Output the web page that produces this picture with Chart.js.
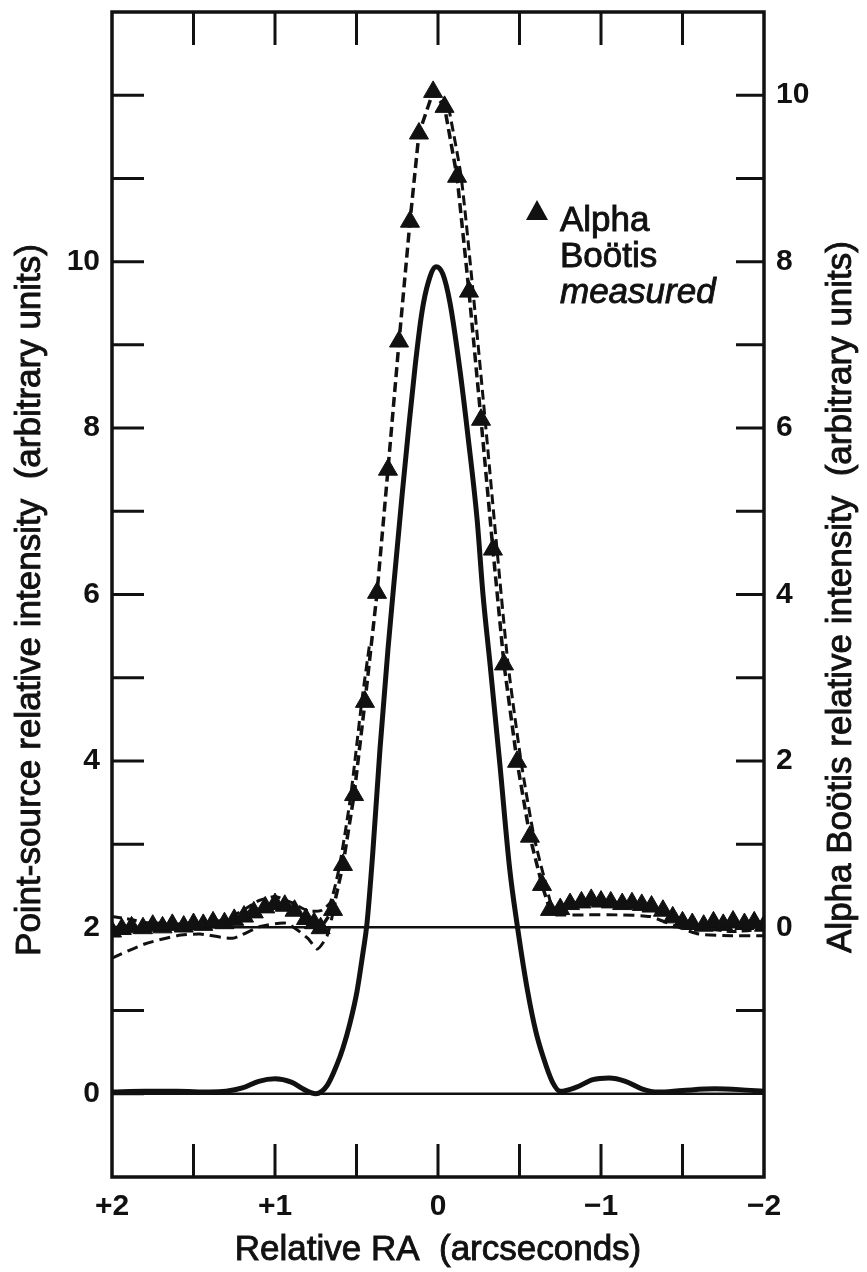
<!DOCTYPE html>
<html>
<head>
<meta charset="utf-8">
<script src="https://cdn.jsdelivr.net/npm/chart.js@4.4.0/dist/chart.umd.min.js"></script>
<style>
body { margin: 0; background: #fff; }
#wrap { width: 867px; height: 1272px; }
</style>
</head>
<body>
<div id="wrap"><canvas id="myChart" width="867" height="1272"></canvas></div>
<script>
var ctx = document.getElementById('myChart');

// Alpha Bootis measured scan (right axis units), RA in arcsec
const measuredRA = [2.0, 1.94, 1.88, 1.81, 1.75, 1.69, 1.63, 1.56, 1.5, 1.44,
    1.38, 1.31, 1.25, 1.19, 1.13, 1.06, 1.0, 0.94, 0.88, 0.81,
    0.76, 0.72, 0.644, 0.583, 0.515, 0.448, 0.374, 0.307, 0.239, 0.172,
    0.117, 0.03, -0.04, -0.117, -0.19, -0.264, -0.337, -0.405, -0.485, -0.564,
    -0.638, -0.687, -0.75, -0.81, -0.88, -0.94, -1.0, -1.06, -1.13, -1.19,
    -1.25, -1.31, -1.38, -1.44, -1.5, -1.56, -1.63, -1.69, -1.75, -1.81,
    -1.88, -1.94, -2.0];
const measuredVals = [-0.05, -0.02, 0.0, -0.01, 0.02, 0.0, 0.03, 0.01, 0.04, 0.03,
    0.06, 0.05, 0.09, 0.13, 0.18, 0.24, 0.28, 0.26, 0.2, 0.1,
    0.05, -0.01, 0.21, 0.75, 1.59, 2.71, 4.02, 5.5, 7.04, 8.48,
    9.54, 10.04, 9.86, 9.02, 7.64, 6.1, 4.54, 3.16, 1.99, 1.09,
    0.51, 0.21, 0.22, 0.28, 0.3, 0.33, 0.31, 0.3, 0.28, 0.29,
    0.27, 0.25, 0.2, 0.12, 0.06, 0.04, 0.02, 0.06, 0.03, 0.07,
    0.04, 0.06, 0.02];

// second scan (dashed, no markers); null = break in the trace
const scanB_RA = [2.0, 1.9, 1.8, 1.7, 1.6, 1.5, 1.4, 1.3, 1.2, 1.1, 1.0, 0.9, 0.8, 0.72,
    0.66, 0.603, 0.535, 0.468, 0.42, 0.2,
    -0.065, -0.142, -0.215, -0.289, -0.362, -0.43, -0.51, -0.589, -0.663, -0.71,
    -0.8, -0.9, -1.0, -1.1, -1.2, -1.3, -1.4, -1.5, -1.6, -1.7, -1.8, -1.9, -2.0];
const scanB_Vals = [0.13, 0.1, 0.06, 0.05, 0.04, 0.05, 0.06, 0.1, 0.2, 0.32, 0.37, 0.3, 0.2, 0.2,
    0.3, 0.75, 1.59, 2.71, 3.4, null,
    9.86, 9.02, 7.64, 6.1, 4.54, 3.16, 1.99, 1.09, 0.51, 0.21,
    0.25, 0.3, 0.33, 0.3, 0.27, 0.22, 0.15, 0.05, 0.0, -0.03, -0.05, -0.04, -0.02];

// third scan (dashed, no markers), wings only
const scanC_RA = [2.0, 1.8, 1.6, 1.46, 1.26, 1.09, 0.93, 0.8, 0.74, 0.68, 0.63, 0.0,
    -0.72, -0.9, -1.1, -1.3, -1.45, -1.6, -1.8, -2.0];
const scanC_Vals = [-0.37, -0.2, -0.1, -0.08, -0.13, 0.01, 0.05, -0.13, -0.26, -0.1, 0.3, null,
    0.15, 0.15, 0.15, 0.13, 0.02, -0.08, -0.1, -0.1];

// point-source profile (left axis units)
const solidRA = [2.0, 1.8, 1.6, 1.4, 1.3, 1.2, 1.1, 1.0, 0.9, 0.82, 0.75, 0.68, 0.62, 0.583,
    0.54, 0.497, 0.46, 0.436, 0.4, 0.356, 0.307, 0.27, 0.22, 0.184, 0.14, 0.098, 0.06, 0.012,
    -0.03, -0.074, -0.135, -0.184, -0.24, -0.276, -0.32, -0.38, -0.44, -0.485, -0.55, -0.6,
    -0.644, -0.7, -0.75, -0.85, -0.95, -1.05, -1.15, -1.25, -1.35, -1.5, -1.7, -1.85, -2.0];
const solidVals = [0.02, 0.03, 0.03, 0.02, 0.03, 0.07, 0.15, 0.18, 0.14, 0.05, 0.0, 0.1, 0.35, 0.55,
    0.85, 1.23, 1.7, 2.04, 2.9, 4.14, 5.34, 6.14, 7.2, 7.92, 8.75, 9.4, 9.75, 9.94,
    9.85, 9.5, 8.69, 7.9, 6.9, 6.0, 5.15, 3.95, 2.7, 2.04, 1.23, 0.75,
    0.45, 0.15, 0.03, 0.08, 0.17, 0.19, 0.15, 0.06, 0.02, 0.04, 0.06, 0.05, 0.03];

const xTicks = [2, 1, 0, -1, -2];
const xMinorTicks = [1.5, 1, 0.5, 0, -0.5, -1, -1.5];
const leftLabels = [0, 2, 4, 6, 8, 10];
const rightLabels = [0, 2, 4, 6, 8, 10];

function toPoints(xs, ys) {
    return xs.map(function (x, i) { return { x: x, y: ys[i] }; });
}

const FONT = '"Liberation Sans", Arial, sans-serif';
const INK = '#111';

function heavyText(c, txt, x, y) {
    c.fillText(txt, x, y);
    c.strokeText(txt, x, y);
}

//draws the frame, inward ticks, axis titles and legend
const framePlugin = {
    id: 'frame',
    afterDraw(chart) {
        const c = chart.ctx;
        const a = chart.chartArea;
        const yL = chart.scales.yL, yR = chart.scales.yR, x = chart.scales.x;
        c.save();
        c.strokeStyle = INK;
        c.lineWidth = 3.5;
        c.strokeRect(a.left, a.top, a.right - a.left, a.bottom - a.top);
        c.lineWidth = 3;
        c.beginPath();
        for (let v = 0; v <= 12; v++) {
            const py = yL.getPixelForValue(v);
            c.moveTo(a.left, py); c.lineTo(a.left + 32, py);
        }
        for (let v = -1; v <= 10; v++) {
            const py = yR.getPixelForValue(v);
            c.moveTo(a.right, py); c.lineTo(a.right - 28, py);
        }
        xMinorTicks.forEach(function (v) {
            const px = x.getPixelForValue(v);
            c.moveTo(px, a.top); c.lineTo(px, a.top + 33);
            c.moveTo(px, a.bottom); c.lineTo(px, a.bottom - 33);
        });
        c.stroke();

        c.fillStyle = INK;
        c.lineWidth = 0.9;
        c.font = '35px ' + FONT;
        c.textAlign = 'center';
        c.textBaseline = 'middle';
        heavyText(c, 'Relative RA  (arcseconds)', (a.left + a.right) / 2, 1250);

        c.save();
        c.translate(30, 600);
        c.rotate(-Math.PI / 2);
        heavyText(c, 'Point-source relative intensity  (arbitrary units)', 0, 0);
        c.restore();

        c.save();
        c.translate(841, 597);
        c.rotate(-Math.PI / 2);
        heavyText(c, 'Alpha Boötis relative intensity  (arbitrary units)', 0, 0);
        c.restore();

        // legend
        c.beginPath();
        c.moveTo(537, 200); c.lineTo(548, 220); c.lineTo(526, 220); c.closePath();
        c.fill();
        c.textAlign = 'left';
        c.font = '35px ' + FONT;
        heavyText(c, 'Alpha', 560, 221);
        heavyText(c, 'Boötis', 560, 257);
        c.font = 'italic 35px ' + FONT;
        heavyText(c, 'measured', 560, 293);
        c.restore();
    }
};

function noPad(s) {
    s.paddingTop = 0; s.paddingBottom = 0; s.paddingLeft = 0; s.paddingRight = 0;
}

var myChart = new Chart(ctx, {
    type: 'line',
    data: {
        datasets: [{
            label: 'Alpha Boötis measured',
            yAxisID: 'yR',
            data: toPoints(measuredRA, measuredVals),
            borderColor: INK,
            borderWidth: 3.5,
            borderDash: [10, 5],
            pointStyle: 'triangle',
            pointRadius: 11,
            pointBackgroundColor: INK,
            pointBorderColor: INK,
            pointBorderWidth: 1,
            tension: 0
        }, {
            label: 'scan 2',
            yAxisID: 'yR',
            data: toPoints(scanB_RA, scanB_Vals),
            borderColor: INK,
            borderWidth: 3,
            borderDash: [10, 5],
            pointRadius: 0,
            tension: 0.2
        }, {
            label: 'scan 3',
            yAxisID: 'yR',
            data: toPoints(scanC_RA, scanC_Vals),
            borderColor: INK,
            borderWidth: 3,
            borderDash: [11, 6],
            pointRadius: 0,
            tension: 0.2
        }, {
            label: 'Point source',
            yAxisID: 'yL',
            data: toPoints(solidRA, solidVals),
            borderColor: INK,
            borderWidth: 5,
            pointRadius: 0,
            cubicInterpolationMode: 'monotone'
        }, {
            label: 'zero (right)',
            yAxisID: 'yR',
            data: toPoints([2, -2], [0, 0]),
            borderColor: INK,
            borderWidth: 2.5,
            pointRadius: 0
        }, {
            label: 'zero (left)',
            yAxisID: 'yL',
            data: toPoints([2, -2], [0, 0]),
            borderColor: INK,
            borderWidth: 2.5,
            pointRadius: 0
        }]
    },
    options: {
        responsive: false,
        animation: false,
        layout: { padding: { top: 10, left: 0, right: 0, bottom: 0 } },
        plugins: {
            legend: { display: false },
            tooltip: { enabled: false }
        },
        scales: {
            x: {
                type: 'linear',
                reverse: true,
                min: -2,
                max: 2,
                grid: { display: false, drawTicks: false },
                border: { display: false },
                afterFit: function (s) { s.height = 95; noPad(s); },
                ticks: {
                    stepSize: 0.5,
                    autoSkip: false,
                    maxRotation: 0,
                    padding: 12,
                    color: INK,
                    font: { family: FONT, size: 30, weight: 'bold' },
                    callback: function (v) {
                        if (xTicks.indexOf(v) < 0) return '';
                        if (v > 0) return '+' + v;
                        if (v < 0) return '\u2212' + Math.abs(v);
                        return '0';
                    }
                }
            },
            yL: {
                type: 'linear',
                position: 'left',
                min: -1,
                max: 13,
                grid: { display: false, drawTicks: false },
                border: { display: false },
                afterFit: function (s) { s.width = 112; noPad(s); },
                ticks: {
                    stepSize: 1,
                    padding: 12,
                    color: INK,
                    font: { family: FONT, size: 30, weight: 'bold' },
                    callback: function (v) { return leftLabels.indexOf(v) >= 0 ? String(v) : ''; }
                }
            },
            yR: {
                type: 'linear',
                position: 'right',
                min: -3,
                max: 11,
                grid: { display: false, drawTicks: false },
                border: { display: false },
                afterFit: function (s) { s.width = 103; noPad(s); },
                ticks: {
                    stepSize: 1,
                    padding: 12,
                    color: INK,
                    font: { family: FONT, size: 30, weight: 'bold' },
                    callback: function (v) { return rightLabels.indexOf(v) >= 0 ? String(v) : ''; }
                }
            }
        }
    },
    plugins: [framePlugin]
});
</script>
</body>
</html>
